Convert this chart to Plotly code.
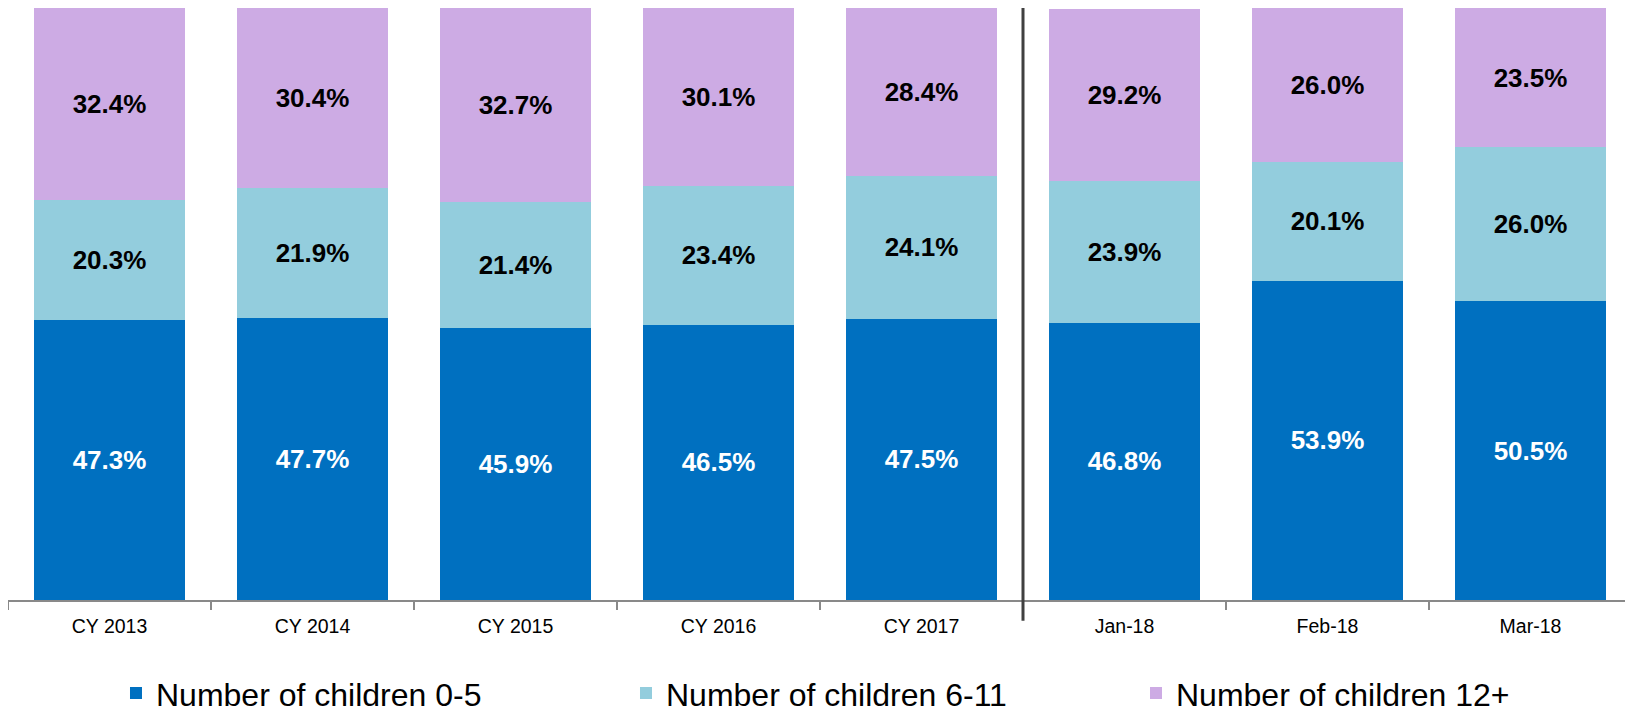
import plotly.graph_objects as go

categories = ["CY 2013", "CY 2014", "CY 2015", "CY 2016", "CY 2017", "Jan-18", "Feb-18", "Mar-18"]
children_0_5 = [47.3, 47.7, 45.9, 46.5, 47.5, 46.8, 53.9, 50.5]
children_6_11 = [20.3, 21.9, 21.4, 23.4, 24.1, 23.9, 20.1, 26.0]
children_12_plus = [32.4, 30.4, 32.7, 30.1, 28.4, 29.2, 26.0, 23.5]

series = [
    ("Number of children 0-5", children_0_5, "#0070C0", "white"),
    ("Number of children 6-11", children_6_11, "#93CDDD", "black"),
    ("Number of children 12+", children_12_plus, "#CDABE4", "black"),
]

FONT = "Liberation Sans, Arial, sans-serif"

fig = go.Figure()
for name, vals, color, tcolor in series:
    fig.add_trace(go.Bar(
        x=categories, y=vals, name=name,
        marker=dict(color=color, line=dict(width=0)),
        texttemplate="<b>%{y:.1f}%</b>",
        textposition="inside", insidetextanchor="middle",
        textangle=0, constraintext="none",
        textfont=dict(family=FONT, size=26, color=tcolor),
        hoverinfo="skip",
    ))

fig.add_shape(type="line", xref="x", yref="paper",
              x0=4.5, x1=4.5, y0=-0.035, y1=1.0,
              line=dict(color="#404040", width=3))

fig.update_layout(
    width=1625, height=705,
    barmode="stack", bargap=0.26,
    plot_bgcolor="white", paper_bgcolor="white",
    margin=dict(l=0, r=1, t=0, b=113, autoexpand=False),
    font=dict(family=FONT, color="black"),
    showlegend=True,
    legend=dict(orientation="h", x=0.0665, xanchor="left",
                yref="container", y=0.028, yanchor="middle",
                font=dict(family=FONT, size=32, color="black"),
                entrywidth=465, entrywidthmode="pixels",
                traceorder="normal", itemclick=False),
    xaxis=dict(type="category", showline=True, linecolor="#898989", linewidth=1.5,
               ticks="outside", tickson="boundaries", ticklen=8, tickcolor="#898989",
               tickwidth=1.5, tickfont=dict(family=FONT, size=19.5, color="black"),
               ticklabelstandoff=8, showgrid=False, zeroline=False, automargin=False,
               range=[-0.5, 7.5]),
    yaxis=dict(range=[0, 100], visible=False, showgrid=False, zeroline=False),
)

fig.write_html("out.html")
